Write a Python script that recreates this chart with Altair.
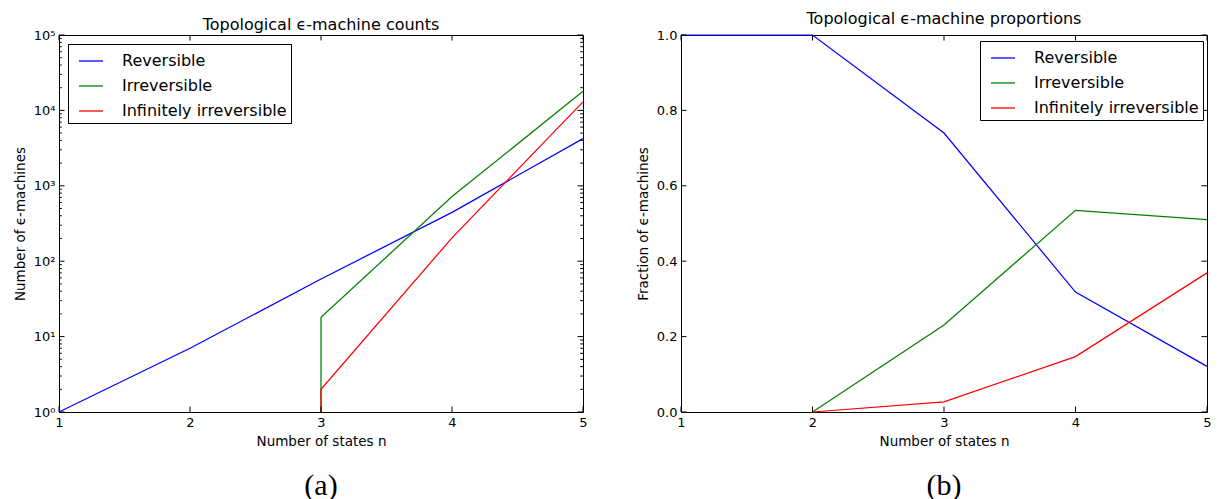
import altair as alt
import pandas as pd

# ---------------- data ----------------
series_names = ["Reversible", "Irreversible", "Infinitely irreversible"]
series_colors = ["#0000ff", "#008000", "#ff0000"]

# panel (a): counts (zero counts at n=3 drop to the axis floor, 10^0)
rev_n = [1, 2, 3, 4, 5]
rev_count = [1, 7, 58, 444, 4220]
irr_n = [3, 3, 4, 5]
irr_count = [1, 18, 720, 17900]
inf_n = [3, 3, 4, 5]
inf_count = [1, 2, 204, 13000]

# panel (b): fractions
rev_frac_n = [1, 2, 3, 4, 5]
rev_frac = [1.0, 1.0, 0.740, 0.318, 0.121]
irr_frac_n = [2, 3, 4, 5]
irr_frac = [0.0, 0.231, 0.535, 0.510]
inf_frac_n = [2, 3, 4, 5]
inf_frac = [0.0, 0.027, 0.147, 0.369]

x_ticks = [1, 2, 3, 4, 5]
log_major = [1, 10, 100, 1000, 10000, 100000]
log_minor = [m * 10 ** k for k in range(5) for m in range(2, 10)]
frac_ticks = [0.0, 0.2, 0.4, 0.6, 0.8, 1.0]

titles = ["Topological ϵ-machine counts", "Topological ϵ-machine proportions"]
y_titles = ["Number of ϵ-machines", "Fraction of ϵ-machines"]
x_title = "Number of states n"
captions = ["(a)", "(b)"]

FONT = "DejaVu Sans"


def frame(ns, vals, name):
    return pd.DataFrame({"n": ns, "value": vals, "series": name,
                         "order": list(range(len(ns)))})


counts_df = pd.concat([frame(rev_n, rev_count, series_names[0]),
                       frame(irr_n, irr_count, series_names[1]),
                       frame(inf_n, inf_count, series_names[2])])
frac_df = pd.concat([frame(rev_frac_n, rev_frac, series_names[0]),
                     frame(irr_frac_n, irr_frac, series_names[1]),
                     frame(inf_frac_n, inf_frac, series_names[2])])

color_scale = alt.Scale(domain=series_names, range=series_colors)

MAJ = 5.5
MIN = 2.8


def legend(lx, ly):
    return alt.Legend(title=None, orient="none", legendX=lx, legendY=ly,
                      strokeColor="black", fillColor="white", padding=4,
                      cornerRadius=0, symbolType="stroke", symbolSize=576,
                      symbolStrokeWidth=1.3, symbolOffset=6,
                      labelFontSize=16, labelFont=FONT,
                      labelColor="black", labelOffset=18, rowPadding=4,
                      labelLimit=500)


def panel(df, W, H, yscale, yaxis, ytitle, title, caption, y_major, y_minor, lx, ly):
    xscale = alt.Scale(domain=[1, 5], nice=False, zero=False)
    xenc = alt.X("n:Q", scale=xscale, title=x_title,
                 axis=alt.Axis(values=x_ticks, format="d", labelFlush=False,
                               labelOverlap=False))
    yenc = alt.Y("value:Q", scale=yscale, title=ytitle, axis=yaxis)
    lines = alt.Chart(df).mark_line(strokeWidth=1.25, clip=False).encode(
        x=xenc, y=yenc,
        color=alt.Color("series:N", scale=color_scale, legend=legend(lx, ly)),
        order=alt.Order("order:Q"),
    )
    tx = alt.Chart(pd.DataFrame({"n": x_ticks})).mark_rule(color="black", strokeWidth=1)
    x_bot = tx.encode(x=xenc, y=alt.value(H), y2=alt.value(H - MAJ))
    x_top = tx.encode(x=xenc, y=alt.value(0), y2=alt.value(MAJ))
    layers = [x_bot, x_top]
    for vals, L in ((y_major, MAJ), (y_minor, MIN)):
        if not vals:
            continue
        ty = alt.Chart(pd.DataFrame({"value": vals})).mark_rule(color="black", strokeWidth=1)
        layers.append(ty.encode(y=yenc, x=alt.value(0), x2=alt.value(L)))
        layers.append(ty.encode(y=yenc, x=alt.value(W), x2=alt.value(W - L)))
    cap = alt.Chart(pd.DataFrame({"c": [caption]})).mark_text(
        font="Liberation Serif", fontSize=30, baseline="middle", align="center",
        color="black").encode(text="c:N", x=alt.value(W / 2), y=alt.value(H + 74))
    return alt.layer(lines, *layers, cap).properties(width=W, height=H, title=title)


H = 377
left_yaxis = alt.Axis(values=log_major,
                      labelExpr="'10' + ['⁰','¹','²','³','⁴','⁵'][round(log(datum.value)/LN10)]")
left = panel(counts_df, 524, H,
             alt.Scale(type="log", domain=[1, 100000], nice=False),
             left_yaxis, y_titles[0], alt.TitleParams(titles[0], dy=7),
             captions[0], log_major, log_minor, 9, 9)

right_yaxis = alt.Axis(values=frac_ticks, format=".1f")
right = panel(frac_df, 526, H,
              alt.Scale(domain=[0, 1], nice=False, zero=False),
              right_yaxis, y_titles[1], alt.TitleParams(titles[1], dy=1),
              captions[1], frac_ticks, [], 299, 6)

chart = alt.hconcat(left, right, spacing=47).resolve_scale(
    color="independent", x="independent", y="independent"
).resolve_legend(color="independent").properties(
    padding={"left": 4, "top": 2, "right": 0, "bottom": 0}
).configure_view(stroke="black", strokeWidth=1).configure_axis(
    labelFont=FONT, labelFontSize=13, labelColor="black", labelPadding=4,
    titleFont=FONT, titleFontSize=13.5, titleFontWeight="normal", titleColor="black",
    ticks=False, domain=False, grid=False,
).configure_axisX(titlePadding=5).configure_axisY(titlePadding=6).configure_title(
    font=FONT, fontSize=16, fontWeight="normal", color="black", offset=3, anchor="middle"
)

chart.save("out.html", embed_options={"renderer": "svg", "actions": False})
